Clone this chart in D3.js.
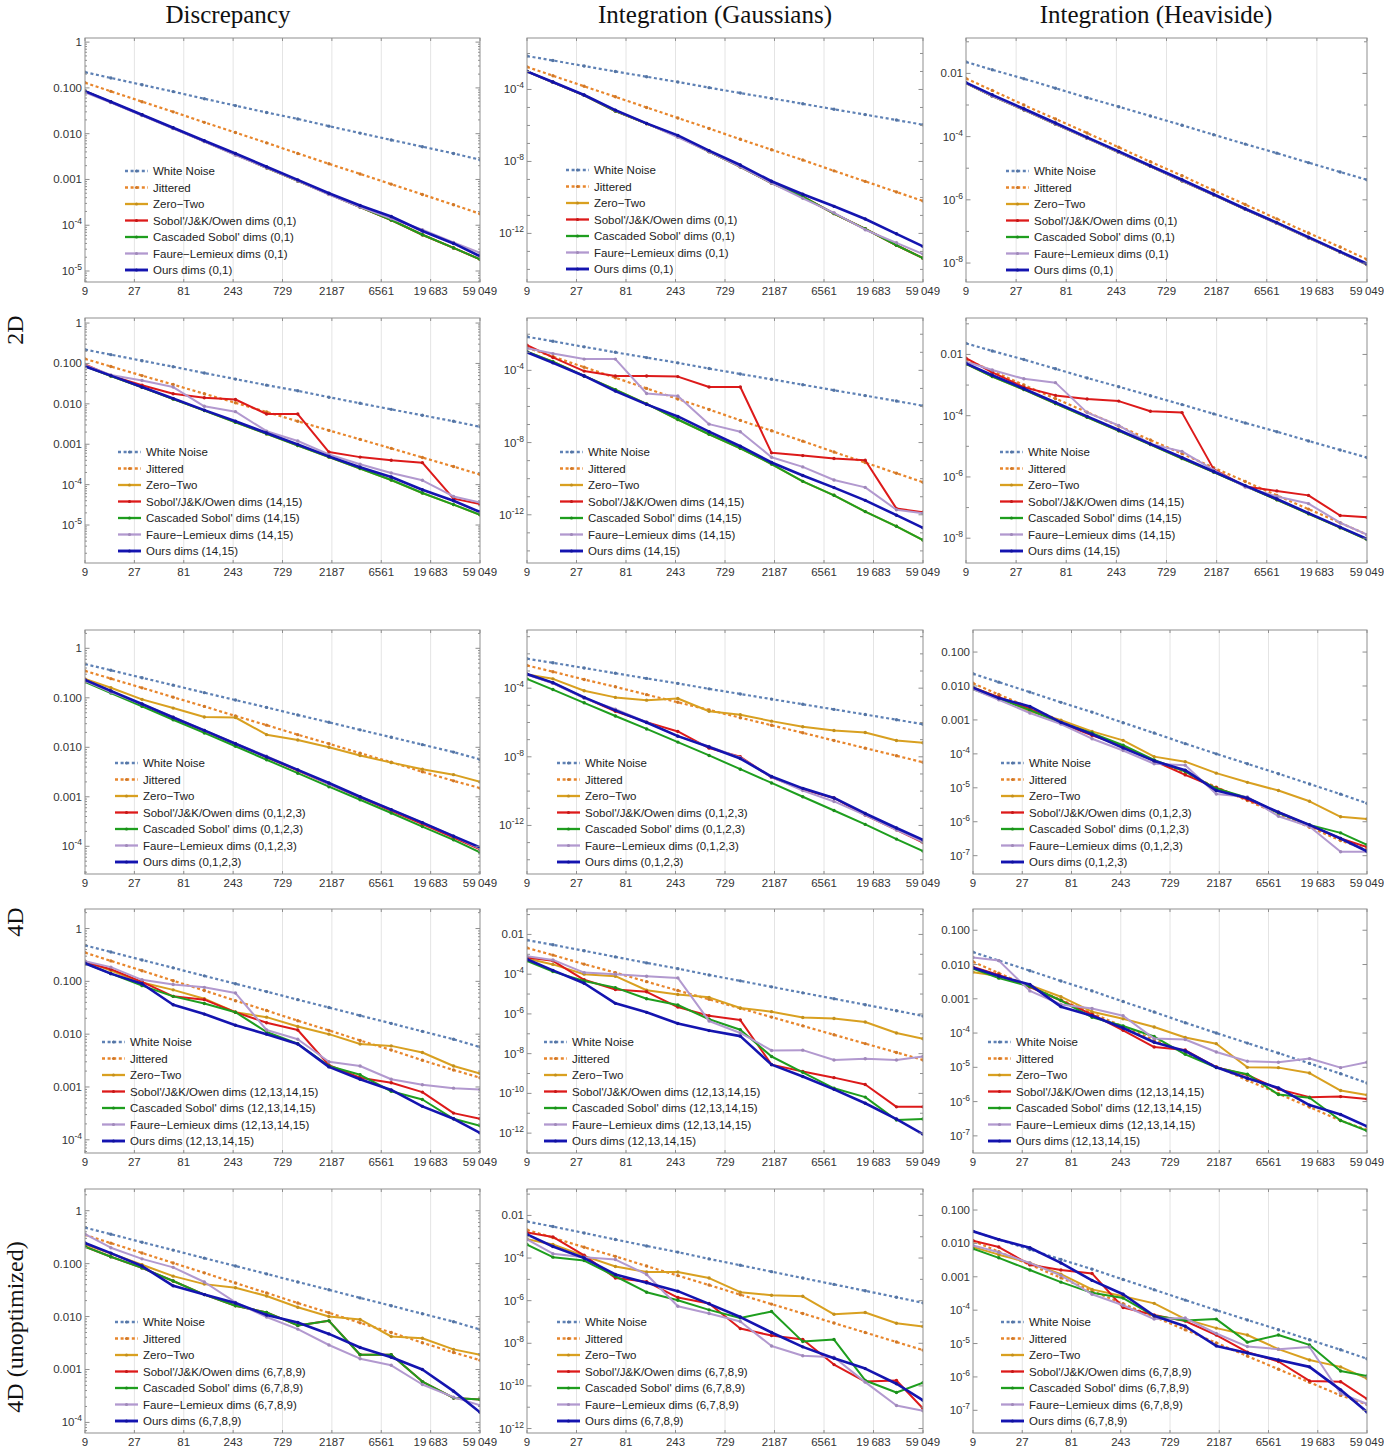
<!DOCTYPE html>
<html><head><meta charset="utf-8">
<script src="https://cdn.jsdelivr.net/npm/d3@7"></script>
<style>body{margin:0;background:#fff}svg{display:block}</style>
</head><body><svg id="c" width="1384" height="1448"></svg>
<script>
// ---------- sample counts and axis ticks ----------
const N = [9,16,32,64,128,256,512,1024,2048,4096,8192,16384,32768,59049];
const X_TICKS = [9,27,81,243,729,2187,6561,19683,59049];
const X_TICK_LABELS = ["9","27","81","243","729","2187","6561","19\u2009683","59\u2009049"];
const COL_TITLES = ["Discrepancy","Integration (Gaussians)","Integration (Heaviside)"];
const ROW_LABELS = ["2D","4D","4D (unoptimized)"];
const SERIES_NAMES = ["White Noise","Jittered","Zero\u2212Two","Sobol'/J&K/Owen dims","Cascaded Sobol' dims","Faure\u2212Lemieux dims","Ours dims"];
const ROW_DIMS = ["(0,1)","(14,15)","(0,1,2,3)","(12,13,14,15)","(6,7,8,9)"];

// y tick label sets
const YT_DISC_2D = [1,0.1,0.01,0.001,1e-4,1e-5];
const YL_DISC_2D = ["1","0.100","0.010","0.001","10^-4","10^-5"];
const YT_DISC_4D = [1,0.1,0.01,0.001,1e-4];
const YL_DISC_4D = ["1","0.100","0.010","0.001","10^-4"];
const YT_GAUSS_A = [1e-4,1e-8,1e-12];
const YL_GAUSS_A = ["10^-4","10^-8","10^-12"];
const YT_GAUSS_B = [1e-2,1e-4,1e-6,1e-8,1e-10,1e-12];
const YL_GAUSS_B = ["0.01","10^-4","10^-6","10^-8","10^-10","10^-12"];
const YT_HEAVI_2D = [1e-2,1e-4,1e-6,1e-8];
const YL_HEAVI_2D = ["0.01","10^-4","10^-6","10^-8"];
const YT_HEAVI_4D = [0.1,0.01,0.001,1e-4,1e-5,1e-6,1e-7];
const YL_HEAVI_4D = ["0.100","0.010","0.001","10^-4","10^-5","10^-6","10^-7"];

// ---------- Discrepancy ----------
const WN_DISC_2D  = [0.22,0.165,0.117,0.083,0.058,0.041,0.029,0.021,0.0146,0.0103,0.0073,0.0052,0.0037,0.0027];
const JIT_DISC_2D = [0.13,0.084,0.05,0.03,0.0177,0.0106,0.0063,0.0037,0.0022,0.00132,0.00079,0.00047,0.00028,0.000178];
const R1C1_ZT   = [0.085,0.049,0.0255,0.0132,0.0068,0.0035,0.0018,0.00093,0.00048,0.00025,0.00013,6.2e-5,3.2e-5,1.8e-5];
const R1C1_SOB  = [0.085,0.049,0.0255,0.0132,0.0068,0.0035,0.0018,0.00093,0.00048,0.00025,0.00013,6.2e-5,3.2e-5,1.8e-5];
const R1C1_CAS  = [0.085,0.049,0.0255,0.0132,0.0068,0.0035,0.0018,0.00093,0.00048,0.00025,0.00013,6.2e-5,3.2e-5,1.8e-5];
const R1C1_FL   = [0.08,0.048,0.025,0.013,0.0067,0.0034,0.0018,0.00093,0.00047,0.00025,0.00014,8e-5,4.2e-5,2.5e-5];
const R1C1_OURS = [0.085,0.05,0.026,0.0135,0.007,0.0037,0.0019,0.00098,0.0005,0.00027,0.000155,7.5e-5,4e-5,2.1e-5];

const R2C1_ZT   = [0.085,0.049,0.0255,0.0132,0.0068,0.0035,0.0018,0.00093,0.00048,0.00025,0.00013,6.2e-5,3.2e-5,1.8e-5];
const R2C1_SOB  = [0.094,0.05,0.029,0.0178,0.0141,0.0128,0.0056,0.0056,0.00064,0.00048,0.0004,0.00035,4.5e-5,3.3e-5];
const R2C1_CAS  = [0.085,0.049,0.0255,0.0132,0.0068,0.0035,0.0018,0.00093,0.00048,0.00025,0.00013,6.2e-5,3.2e-5,1.8e-5];
const R2C1_FL   = [0.09,0.052,0.038,0.026,0.0087,0.0064,0.0021,0.0012,0.00056,0.00032,0.000195,0.000128,5.1e-5,3.6e-5];
const R2C1_OURS = [0.085,0.05,0.026,0.0135,0.007,0.0037,0.0019,0.00098,0.0005,0.00027,0.000155,7.5e-5,4e-5,2.1e-5];

const WN_DISC_4D  = [0.48,0.36,0.254,0.18,0.127,0.09,0.064,0.045,0.032,0.0225,0.016,0.0113,0.008,0.0057];
const JIT_DISC_4D = [0.35,0.244,0.159,0.103,0.067,0.043,0.028,0.018,0.0118,0.0076,0.005,0.0032,0.0021,0.0015];
const R3C1_ZT   = [0.24,0.16,0.093,0.062,0.041,0.040,0.018,0.014,0.01,0.0068,0.0049,0.0036,0.0028,0.002];
const R3C1_SOB  = [0.23,0.136,0.073,0.04,0.0215,0.0118,0.0063,0.0034,0.0018,0.00097,0.00052,0.00028,0.00015,8.7e-5];
const R3C1_CAS  = [0.21,0.125,0.067,0.036,0.0195,0.0105,0.0056,0.003,0.0016,0.00087,0.00047,0.00025,0.000135,7.5e-5];
const R3C1_FL   = [0.22,0.13,0.074,0.041,0.022,0.012,0.0066,0.0035,0.0018,0.001,0.00055,0.0003,0.00016,9.0e-5];
const R3C1_OURS = [0.23,0.138,0.075,0.040,0.022,0.0118,0.0064,0.0035,0.0019,0.001,0.00055,0.0003,0.00016,9.5e-5];

const R4C1_ZT   = [0.24,0.16,0.095,0.069,0.047,0.026,0.021,0.014,0.01,0.0065,0.006,0.0045,0.0025,0.0018];
const R4C1_SOB  = [0.23,0.17,0.098,0.052,0.045,0.026,0.0165,0.012,0.0026,0.0015,0.0012,0.0008,0.00032,0.00025];
const R4C1_CAS  = [0.22,0.14,0.083,0.052,0.038,0.026,0.011,0.0066,0.0025,0.0017,0.00083,0.00058,0.00025,0.000185];
const R4C1_FL   = [0.24,0.186,0.107,0.087,0.077,0.06,0.012,0.008,0.003,0.0025,0.0014,0.0011,0.00095,0.0009];
const R4C1_OURS = [0.22,0.14,0.09,0.036,0.024,0.0148,0.01,0.0065,0.0024,0.0014,0.00088,0.00043,0.00025,0.000135];

const R5C1_ZT   = [0.23,0.155,0.095,0.058,0.041,0.035,0.0245,0.015,0.01,0.0088,0.0042,0.0039,0.0024,0.0019];
const R5C1_SOB  = [0.21,0.135,0.083,0.047,0.026,0.016,0.012,0.0068,0.0083,0.0019,0.0019,0.00059,0.00029,0.00027];
const R5C1_CAS  = [0.21,0.135,0.083,0.047,0.026,0.016,0.012,0.0068,0.0083,0.0019,0.0019,0.00059,0.00029,0.00027];
const R5C1_FL   = [0.36,0.2,0.123,0.085,0.045,0.0185,0.0098,0.0058,0.0029,0.0016,0.0012,0.00052,0.0003,0.00021];
const R5C1_OURS = [0.245,0.158,0.09,0.038,0.026,0.018,0.0107,0.0077,0.0047,0.0026,0.0017,0.001,0.00039,0.000155];

// ---------- Integration (Gaussians) ----------
const WN_GAUSS_2D  = [7.2e-3,4.1e-3,2.0e-3,1.0e-3,5.1e-4,2.6e-4,1.26e-4,6.3e-5,3.2e-5,1.6e-5,7.9e-6,4.0e-6,2.0e-6,1.1e-6];
const JIT_GAUSS_2D = [1.8e-3,5.8e-4,1.5e-4,3.9e-5,1.0e-5,2.6e-6,6.8e-7,1.7e-7,4.5e-8,1.2e-8,3.0e-9,7.8e-10,2.0e-10,6.4e-11];
const R1C2_ZT   = [1.0e-3,2.5e-4,4.7e-5,6.3e-6,1.26e-6,2.5e-7,3.5e-8,5.0e-9,6.3e-10,1.1e-10,1.26e-11,1.8e-12,2.2e-13,4.2e-14];
const R1C2_SOB  = [1.0e-3,2.5e-4,4.7e-5,6.3e-6,1.26e-6,2.5e-7,3.5e-8,5.0e-9,6.3e-10,1.1e-10,1.26e-11,1.8e-12,2.2e-13,4.2e-14];
const R1C2_CAS  = [1.0e-3,2.5e-4,4.7e-5,6.3e-6,1.26e-6,2.5e-7,3.5e-8,5.0e-9,6.3e-10,1.1e-10,1.26e-11,1.8e-12,2.2e-13,4.2e-14];
const R1C2_FL   = [1.0e-3,2.5e-4,4.8e-5,6.8e-6,1.3e-6,2.2e-7,3.5e-8,5.0e-9,6.3e-10,8.9e-11,1.4e-11,1.6e-12,3.0e-13,7.1e-14];
const R1C2_OURS = [1.0e-3,2.6e-4,4.9e-5,7.1e-6,1.3e-6,2.8e-7,4.0e-8,6.3e-9,7.9e-10,1.5e-10,3.2e-11,6.3e-12,9.5e-13,1.9e-13];

const R2C2_ZT   = [1.07e-3,3.0e-4,4.9e-5,8.5e-6,1.4e-6,1.9e-7,2.9e-8,4.8e-9,6.5e-10,7.1e-11,1.2e-11,1.5e-12,2.3e-13,4.0e-14];
const R2C2_SOB  = [2.5e-3,5.2e-4,9.1e-5,4.9e-5,4.9e-5,4.5e-5,1.2e-5,1.2e-5,2.7e-9,1.9e-9,1.3e-9,1.05e-9,2.2e-12,1.4e-12];
const R2C2_CAS  = [1.07e-3,3.0e-4,4.9e-5,8.5e-6,1.4e-6,1.9e-7,2.9e-8,4.8e-9,6.5e-10,7.1e-11,1.2e-11,1.5e-12,2.3e-13,4.0e-14];
const R2C2_FL   = [1.7e-3,8.5e-4,4.2e-4,4.2e-4,5.2e-6,3.8e-6,1.05e-7,4.0e-8,1.55e-9,4.5e-10,8.5e-11,3.3e-11,1.9e-12,1.2e-12];
const R2C2_OURS = [1.0e-3,2.6e-4,4.9e-5,7.1e-6,1.3e-6,2.8e-7,4.0e-8,6.3e-9,7.9e-10,1.5e-10,3.2e-11,6.3e-12,9.5e-13,1.9e-13];

const WN_GAUSS_4D  = [5.2e-3,3.0e-3,1.5e-3,7.4e-4,3.7e-4,1.9e-4,9.1e-5,4.6e-5,2.3e-5,1.15e-5,5.8e-6,2.9e-6,1.45e-6,7.9e-7];
const JIT_GAUSS_4D = [2.1e-3,9.1e-4,3.2e-4,1.2e-4,4.2e-5,1.5e-5,5.4e-6,1.9e-6,6.9e-7,2.5e-7,8.9e-8,3.2e-8,1.15e-8,4.8e-9];
const R3C2_ZT   = [6.3e-4,3.5e-4,7.1e-5,2.9e-5,2.0e-5,2.5e-5,4.5e-6,2.8e-6,1.2e-6,5.6e-7,3.4e-7,2.6e-7,8.9e-8,6.6e-8];
const R3C2_SOB  = [6.6e-4,2.0e-4,2.8e-5,4.5e-6,1.05e-6,3.0e-7,3.2e-8,1.0e-8,6.3e-10,1.26e-10,4.0e-11,4.0e-12,5.6e-13,1.0e-13];
const R3C2_CAS  = [3.5e-4,8.3e-5,1.4e-5,2.4e-6,4.2e-7,7.2e-8,1.2e-8,1.9e-9,3.0e-10,4.7e-11,7.4e-12,1.15e-12,1.6e-13,3.2e-14];
const R3C2_FL   = [6.0e-4,1.9e-4,2.6e-5,6.0e-6,1.05e-6,1.6e-7,4.0e-8,8.9e-9,6.5e-10,1.07e-10,2.5e-11,4.0e-12,5.5e-13,1.1e-13];
const R3C2_OURS = [6.6e-4,2.1e-4,2.9e-5,5.1e-6,1.0e-6,1.6e-7,3.7e-8,7.9e-9,7.1e-10,1.45e-10,4.0e-11,5.0e-12,7.1e-13,1.45e-13];

const R4C2_ZT   = [6.2e-4,3.1e-4,1.0e-4,7.9e-5,1.55e-5,9.5e-6,6.8e-6,2.0e-6,1.3e-6,6.6e-7,5.9e-7,3.9e-7,1.1e-7,5.6e-8];
const R4C2_SOB  = [6.9e-4,4.7e-4,5.2e-5,1.7e-5,1.3e-5,2.2e-6,8.1e-7,4.9e-7,2.8e-9,1.26e-9,6.2e-10,2.8e-10,2.1e-11,2.1e-11];
const R4C2_CAS  = [4.7e-4,1.35e-4,4.5e-5,2.1e-5,5.8e-6,2.8e-6,5.4e-7,1.6e-7,7.2e-9,1.15e-9,1.8e-10,6.5e-11,4.6e-12,5.1e-12];
const R4C2_FL   = [7.9e-4,5.2e-4,1.2e-4,1.0e-4,7.9e-5,6.5e-5,4.4e-7,1.1e-7,1.45e-8,1.5e-8,4.8e-9,5.5e-9,4.8e-9,7.2e-9];
const R4C2_OURS = [5.6e-4,1.55e-4,3.5e-5,3.4e-6,1.2e-6,3.3e-7,1.45e-7,7.6e-8,2.8e-9,7.1e-10,1.6e-10,3.2e-11,5.1e-12,8.9e-13];

const R5C2_ZT   = [7.6e-4,4.3e-4,1.26e-4,4.0e-5,2.2e-5,2.2e-5,1.15e-5,2.5e-6,1.8e-6,1.6e-6,2.3e-7,2.8e-7,8.7e-8,6.2e-8];
const R5C2_SOB  = [1.6e-3,9.8e-4,1.35e-4,1.15e-5,7.8e-6,1.4e-6,7.4e-7,4.9e-8,2.3e-8,1.5e-8,1.0e-9,1.6e-10,1.8e-10,8.7e-12];
const R5C2_CAS  = [4.3e-4,1.1e-4,7.6e-5,1.4e-5,2.5e-6,1.05e-6,3.7e-7,1.55e-7,3.1e-7,1.2e-8,1.5e-8,1.8e-10,4.9e-11,1.4e-10];
const R5C2_FL   = [7.6e-4,1.6e-4,1.1e-4,8.5e-5,1.7e-5,5.5e-7,2.5e-7,1.05e-7,7.4e-9,2.6e-9,2.2e-9,1.5e-10,1.2e-11,6.8e-12];
const R5C2_OURS = [1.3e-3,3.5e-4,1.0e-4,1.7e-5,6.9e-6,2.8e-6,7.1e-7,1.7e-7,3.2e-8,6.8e-9,2.0e-9,6.5e-10,1.26e-10,2.1e-11];

// ---------- Integration (Heaviside) ----------
const WN_HEAVI_2D  = [2.3e-2,1.3e-2,6.8e-3,3.4e-3,1.7e-3,8.8e-4,4.5e-4,2.3e-4,1.15e-4,5.8e-5,3.0e-5,1.5e-5,7.6e-6,4.3e-6];
const JIT_HEAVI_2D = [6.9e-3,2.9e-3,1.0e-3,3.6e-4,1.3e-4,4.6e-5,1.6e-5,5.8e-6,2.0e-6,7.1e-7,2.5e-7,8.9e-8,3.2e-8,1.3e-8];
const R1C3_ZT   = [4.9e-3,1.9e-3,7.1e-4,2.5e-4,8.9e-5,3.2e-5,1.15e-5,4.0e-6,1.45e-6,5.0e-7,1.8e-7,6.3e-8,2.2e-8,9.0e-9];
const R1C3_SOB  = [4.9e-3,1.9e-3,7.1e-4,2.5e-4,8.9e-5,3.2e-5,1.15e-5,4.0e-6,1.45e-6,5.0e-7,1.8e-7,6.3e-8,2.2e-8,9.0e-9];
const R1C3_CAS  = [4.9e-3,1.9e-3,7.1e-4,2.5e-4,8.9e-5,3.2e-5,1.15e-5,4.0e-6,1.45e-6,5.0e-7,1.8e-7,6.3e-8,2.2e-8,9.0e-9];
const R1C3_FL   = [4.9e-3,1.9e-3,7.1e-4,2.5e-4,8.9e-5,3.2e-5,1.15e-5,4.0e-6,1.45e-6,5.0e-7,1.8e-7,6.3e-8,2.2e-8,9.0e-9];
const R1C3_OURS = [5.1e-3,2.1e-3,7.6e-4,2.7e-4,9.5e-5,3.4e-5,1.2e-5,4.3e-6,1.5e-6,5.2e-7,1.9e-7,6.6e-8,2.3e-8,9.5e-9];

const R2C3_ZT   = [4.9e-3,1.9e-3,7.1e-4,2.5e-4,8.9e-5,3.2e-5,1.15e-5,4.0e-6,1.45e-6,5.0e-7,1.8e-7,6.3e-8,2.2e-8,9.0e-9];
const R2C3_SOB  = [7.6e-3,2.6e-3,8.5e-4,4.6e-4,3.5e-4,3.0e-4,1.4e-4,1.26e-4,1.8e-6,4.9e-7,3.5e-7,2.5e-7,5.5e-8,4.8e-8];
const R2C3_CAS  = [4.9e-3,1.9e-3,7.1e-4,2.5e-4,8.9e-5,3.2e-5,1.15e-5,4.0e-6,1.45e-6,5.0e-7,1.8e-7,6.3e-8,2.2e-8,9.0e-9];
const R2C3_FL   = [5.8e-3,3.1e-3,1.6e-3,1.2e-3,1.26e-4,4.8e-5,1.2e-5,6.8e-6,1.7e-6,4.7e-7,2.3e-7,1.35e-7,3.2e-8,1.3e-8];
const R2C3_OURS = [5.1e-3,2.1e-3,7.6e-4,2.7e-4,9.5e-5,3.4e-5,1.2e-5,4.3e-6,1.5e-6,5.2e-7,1.9e-7,6.6e-8,2.3e-8,9.5e-9];

const WN_HEAVI_4D  = [2.3e-2,1.3e-2,6.6e-3,3.3e-3,1.7e-3,8.3e-4,4.1e-4,2.0e-4,1.0e-4,5.1e-5,2.6e-5,1.3e-5,6.5e-6,3.5e-6];
const JIT_HEAVI_4D = [1.2e-2,5.6e-3,2.3e-3,9.3e-4,3.8e-4,1.55e-4,6.3e-5,2.6e-5,1.05e-5,4.2e-6,1.7e-6,6.9e-7,2.8e-7,1.5e-7];
const R3C3_ZT   = [9.3e-3,4.6e-3,1.8e-3,9.8e-4,4.6e-4,2.5e-4,8.3e-5,5.9e-5,2.7e-5,1.45e-5,8.3e-6,4.0e-6,1.4e-6,1.2e-6];
const R3C3_SOB  = [8.9e-3,4.7e-3,2.1e-3,7.9e-4,3.5e-4,1.7e-4,6.2e-5,2.4e-5,1.0e-5,4.5e-6,1.9e-6,7.8e-7,3.2e-7,1.8e-7];
const R3C3_CAS  = [8.1e-3,4.2e-3,1.95e-3,8.1e-4,4.1e-4,1.8e-4,6.6e-5,3.0e-5,9.5e-6,5.1e-6,1.8e-6,8.1e-7,4.7e-7,2.1e-7];
const R3C3_FL   = [8.1e-3,3.9e-3,1.6e-3,7.6e-4,2.8e-4,1.26e-4,5.1e-5,4.6e-5,6.6e-6,5.4e-6,1.45e-6,7.2e-7,1.3e-7,1.3e-7];
const R3C3_OURS = [8.9e-3,4.4e-3,2.5e-3,8.5e-4,3.8e-4,1.5e-4,6.2e-5,3.3e-5,8.3e-6,5.0e-6,1.9e-6,8.1e-7,3.2e-7,1.35e-7];

const R4C3_ZT   = [6.0e-3,4.6e-3,2.5e-3,1.15e-3,4.2e-4,2.6e-4,1.5e-4,7.4e-5,4.9e-5,1.0e-5,9.8e-6,6.8e-6,2.1e-6,1.55e-6];
const R4C3_SOB  = [8.5e-3,5.0e-3,2.2e-3,8.9e-4,3.5e-4,1.2e-4,3.9e-5,3.2e-5,1.0e-5,6.0e-6,2.3e-6,1.35e-6,1.4e-6,1.2e-6];
const R4C3_CAS  = [7.6e-3,4.0e-3,2.3e-3,8.9e-4,2.9e-4,1.6e-4,7.9e-5,2.4e-5,9.8e-6,6.3e-6,1.6e-6,1.3e-6,2.8e-7,1.4e-7];
const R4C3_FL   = [1.6e-2,1.3e-2,1.7e-3,6.8e-4,5.2e-4,3.2e-4,6.9e-5,6.5e-5,2.8e-5,1.5e-5,1.4e-5,1.8e-5,9.8e-6,1.4e-5];
const R4C3_OURS = [8.1e-3,4.6e-3,2.6e-3,5.9e-4,3.2e-4,1.4e-4,5.4e-5,3.0e-5,1.0e-5,4.8e-6,2.5e-6,7.9e-7,4.2e-7,1.9e-7];

const R5C3_ZT   = [7.8e-3,4.6e-3,2.6e-3,1.2e-3,4.2e-4,2.6e-4,1.6e-4,5.4e-5,2.9e-5,1.8e-5,6.8e-6,3.2e-6,2.0e-6,8.9e-7];
const R5C3_SOB  = [1.2e-2,7.8e-3,2.3e-3,1.6e-3,1.26e-3,1.2e-4,7.2e-5,4.7e-5,1.8e-5,5.5e-6,2.9e-6,7.6e-7,7.2e-7,2.2e-7];
const R5C3_CAS  = [6.9e-3,3.7e-3,1.6e-3,6.9e-4,3.3e-4,2.3e-4,6.8e-5,4.9e-5,5.4e-5,1.1e-5,1.8e-5,9.1e-6,1.5e-6,1.07e-6];
const R5C3_FL   = [8.7e-3,5.4e-3,2.6e-3,1.1e-3,3.0e-4,1.4e-4,5.4e-5,5.8e-5,2.0e-5,8.1e-6,6.8e-6,7.9e-6,3.2e-7,1.55e-7];
const R5C3_OURS = [2.3e-2,1.3e-2,7.4e-3,2.6e-3,7.8e-4,3.0e-4,6.8e-5,3.3e-5,8.5e-6,5.2e-6,3.2e-6,2.0e-6,4.1e-7,8.9e-8];

// ---------- styles ----------
const COLORS = ["#5E81B5","#E8862C","#D9A020","#DD1A1A","#1E9E1E","#B299CF","#1414B0"];
const WIDTHS = [2.2,2.2,2,2,2,2,2.6];
const DASHED = [true,true,false,false,false,false,false];
const SANS = "'Liberation Sans', Arial, Helvetica, sans-serif";
const SERIF = "'Liberation Serif', 'Times New Roman', serif";

// ---------- layout (positions only) ----------
const COLS_X = [[85,480],[527,923],[966,1367]];
const COL3_X_4D = [973,1367];
const ROWS_Y = [[38,282],[318,563],[630,874],[909,1153],[1189,1433]];
const LEGEND_POS = [
  [[125,171],[566,170],[1006,171]],
  [[118,452],[560,452],[1000,452]],
  [[115,763],[557,763],[1001,763]],
  [[102,1042],[544,1042],[988,1042]],
  [[115,1322],[557,1322],[1001,1322]]
];
const Y_DOMAINS = [
  [[-5.24,0.09],[-14.7,-1.14],[-8.6,-0.88]],
  [[-5.94,0.125],[-14.67,-1.1],[-8.81,-0.81]],
  [[-4.56,0.37],[-14.83,-0.61],[-7.54,-0.35]],
  [[-4.25,0.37],[-13.0,-0.72],[-7.5,-0.38]],
  [[-4.2,0.41],[-12.21,-0.76],[-7.68,-0.37]]
];
const PANEL_DATA = [
  [[WN_DISC_2D,JIT_DISC_2D,R1C1_ZT,R1C1_SOB,R1C1_CAS,R1C1_FL,R1C1_OURS],
   [WN_GAUSS_2D,JIT_GAUSS_2D,R1C2_ZT,R1C2_SOB,R1C2_CAS,R1C2_FL,R1C2_OURS],
   [WN_HEAVI_2D,JIT_HEAVI_2D,R1C3_ZT,R1C3_SOB,R1C3_CAS,R1C3_FL,R1C3_OURS]],
  [[WN_DISC_2D,JIT_DISC_2D,R2C1_ZT,R2C1_SOB,R2C1_CAS,R2C1_FL,R2C1_OURS],
   [WN_GAUSS_2D,JIT_GAUSS_2D,R2C2_ZT,R2C2_SOB,R2C2_CAS,R2C2_FL,R2C2_OURS],
   [WN_HEAVI_2D,JIT_HEAVI_2D,R2C3_ZT,R2C3_SOB,R2C3_CAS,R2C3_FL,R2C3_OURS]],
  [[WN_DISC_4D,JIT_DISC_4D,R3C1_ZT,R3C1_SOB,R3C1_CAS,R3C1_FL,R3C1_OURS],
   [WN_GAUSS_4D,JIT_GAUSS_4D,R3C2_ZT,R3C2_SOB,R3C2_CAS,R3C2_FL,R3C2_OURS],
   [WN_HEAVI_4D,JIT_HEAVI_4D,R3C3_ZT,R3C3_SOB,R3C3_CAS,R3C3_FL,R3C3_OURS]],
  [[WN_DISC_4D,JIT_DISC_4D,R4C1_ZT,R4C1_SOB,R4C1_CAS,R4C1_FL,R4C1_OURS],
   [WN_GAUSS_4D,JIT_GAUSS_4D,R4C2_ZT,R4C2_SOB,R4C2_CAS,R4C2_FL,R4C2_OURS],
   [WN_HEAVI_4D,JIT_HEAVI_4D,R4C3_ZT,R4C3_SOB,R4C3_CAS,R4C3_FL,R4C3_OURS]],
  [[WN_DISC_4D,JIT_DISC_4D,R5C1_ZT,R5C1_SOB,R5C1_CAS,R5C1_FL,R5C1_OURS],
   [WN_GAUSS_4D,JIT_GAUSS_4D,R5C2_ZT,R5C2_SOB,R5C2_CAS,R5C2_FL,R5C2_OURS],
   [WN_HEAVI_4D,JIT_HEAVI_4D,R5C3_ZT,R5C3_SOB,R5C3_CAS,R5C3_FL,R5C3_OURS]]
];
function yTicksFor(r,c){
  if(c===0) return r<2 ? [YT_DISC_2D,YL_DISC_2D] : [YT_DISC_4D,YL_DISC_4D];
  if(c===1) return r<3 ? [YT_GAUSS_A,YL_GAUSS_A] : [YT_GAUSS_B,YL_GAUSS_B];
  return r<2 ? [YT_HEAVI_2D,YL_HEAVI_2D] : [YT_HEAVI_4D,YL_HEAVI_4D];
}

const svg = d3.select("#c");
svg.append("rect").attr("width",1384).attr("height",1448).attr("fill","#fff");

function setLabel(sel, lbl){
  if(lbl.indexOf("^")>=0){
    const [b,e] = lbl.split("^");
    sel.text(b);
    sel.append("tspan").attr("dy",-5).attr("font-size","8.5px").text(e);
  } else sel.text(lbl);
}

let clipCount = 0;
function drawPanel(r,c){
  const [x0,x1] = (c===2 && r>=2) ? COL3_X_4D : COLS_X[c];
  const [y0,y1] = ROWS_Y[r];
  const [lo,hi] = Y_DOMAINS[r][c];
  const data = PANEL_DATA[r][c];
  const g = svg.append("g");
  const x = d3.scaleLog().domain([X_TICKS[0], X_TICKS[X_TICKS.length-1]]).range([x0,x1]);
  const y = d3.scaleLog().domain([Math.pow(10,lo), Math.pow(10,hi)]).range([y1,y0]);
  const id = "clip"+(clipCount++);
  g.append("clipPath").attr("id",id).append("rect")
    .attr("x",x0).attr("y",y0).attr("width",x1-x0).attr("height",y1-y0);

  g.selectAll("line.grid").data(X_TICKS.slice(1,-1)).join("line")
    .attr("x1",d=>x(d)).attr("x2",d=>x(d)).attr("y1",y0).attr("y2",y1)
    .attr("stroke","#e4e4e4").attr("stroke-width",1);

  const plot = g.append("g").attr("clip-path",`url(#${id})`);
  const line = d3.line().x((d,i)=>x(N[i])).y(d=>y(d));
  data.forEach((vals,k)=>{
    plot.append("path").attr("d",line(vals)).attr("fill","none")
      .attr("stroke",COLORS[k]).attr("stroke-width",WIDTHS[k])
      .attr("stroke-linejoin","round")
      .attr("stroke-dasharray",DASHED[k]?"3,2.6":null);
    plot.selectAll(null).data(vals).join("circle")
      .attr("cx",(d,i)=>x(N[i])).attr("cy",d=>y(d)).attr("r",1.7)
      .attr("fill",d3.color(COLORS[k]).darker(0.3));
  });

  g.append("rect").attr("x",x0).attr("y",y0).attr("width",x1-x0).attr("height",y1-y0)
    .attr("fill","none").attr("stroke","#8f8f8f").attr("stroke-width",1);

  const [tv,tl] = yTicksFor(r,c);
  const pxDec = (y1-y0)/(hi-lo);
  for(let e=Math.floor(lo); e<=Math.ceil(hi); e++){
    for(let m=1;m<=9;m++){
      const v = m*Math.pow(10,e);
      const lv = Math.log10(v);
      if(lv<lo || lv>hi) continue;
      if(m>1 && pxDec<40) continue;
      const yy = y(v);
      const labeled = tv.some(t=>Math.abs(Math.log10(t)-lv)<1e-6);
      const len = m===1 ? (labeled?4.5:3) : 2;
      g.append("line").attr("x1",x0).attr("x2",x0+len).attr("y1",yy).attr("y2",yy).attr("stroke","#8f8f8f");
      g.append("line").attr("x1",x1).attr("x2",x1-len).attr("y1",yy).attr("y2",yy).attr("stroke","#8f8f8f");
    }
  }
  tv.forEach((v,i)=>{
    const t = g.append("text").attr("x",x0-3).attr("y",y(v)+4)
      .attr("text-anchor","end").attr("font-family",SANS).attr("font-size","11.5px").attr("fill","#333");
    setLabel(t, tl[i]);
  });

  X_TICKS.forEach((v,i)=>{
    g.append("line").attr("x1",x(v)).attr("x2",x(v)).attr("y1",y1).attr("y2",y1-3).attr("stroke","#8f8f8f");
    g.append("line").attr("x1",x(v)).attr("x2",x(v)).attr("y1",y0).attr("y2",y0+3).attr("stroke","#8f8f8f");
    g.append("text").attr("x",x(v)).attr("y",y1+13).attr("text-anchor","middle")
      .attr("font-family",SANS).attr("font-size","11.5px").attr("fill","#333").text(X_TICK_LABELS[i]);
  });

  const [lx,ly] = LEGEND_POS[r][c];
  SERIES_NAMES.forEach((name,k)=>{
    const yy = ly + k*16.5;
    g.append("line").attr("x1",lx).attr("x2",lx+23).attr("y1",yy).attr("y2",yy)
      .attr("stroke",COLORS[k]).attr("stroke-width",WIDTHS[k]+0.3)
      .attr("stroke-dasharray",DASHED[k]?"3,2.6":null);
    g.append("circle").attr("cx",lx+11.5).attr("cy",yy).attr("r",1.6).attr("fill",d3.color(COLORS[k]).darker(0.3));
    const label = k>=3 ? name+" "+ROW_DIMS[r] : name;
    g.append("text").attr("x",lx+28).attr("y",yy+4).attr("font-family",SANS)
      .attr("font-size","11.5px").attr("fill","#222").text(label);
  });
}

for(let r=0;r<5;r++) for(let c=0;c<3;c++) drawPanel(r,c);

const TITLE_X = [228,715,1156];
COL_TITLES.forEach((t,i)=>{
  svg.append("text").attr("x",TITLE_X[i]).attr("y",23).attr("text-anchor","middle")
    .attr("font-family",SERIF).attr("font-size","25px").attr("fill","#111").text(t);
});
const ROW_LABEL_Y = [330,922,1327];
ROW_LABELS.forEach((t,i)=>{
  svg.append("text").attr("transform",`translate(23,${ROW_LABEL_Y[i]}) rotate(-90)`)
    .attr("text-anchor","middle").attr("font-family",SERIF).attr("font-size","24px")
    .attr("fill","#111").text(t);
});
</script></body></html>
